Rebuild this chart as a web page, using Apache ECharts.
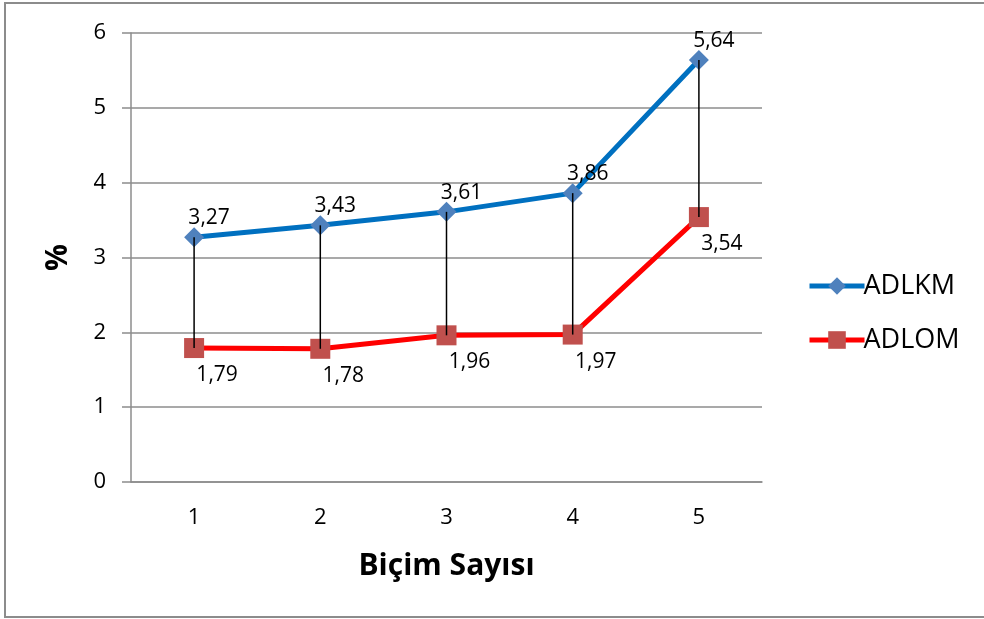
<!DOCTYPE html>
<html>
<head>
<meta charset="utf-8">
<script src="https://cdn.jsdelivr.net/npm/echarts@6/dist/echarts.min.js"></script>
<style>
html,body{margin:0;padding:0;background:#fff;}
#chart{width:984px;height:619px;}
</style>
</head>
<body>
<div id="chart"></div>
<script>
const categories = ['1', '2', '3', '4', '5'];
const adlkm = [3.27, 3.43, 3.61, 3.86, 5.64];
const adlom = [1.79, 1.78, 1.96, 1.97, 3.54];
const seriesNames = ['ADLKM', 'ADLOM'];
const yTicks = [0, 1, 2, 3, 4, 5, 6];

const FONT = 'Open Sans';
const fmt = p => String(p.value).replace('.', ',');

const chart = echarts.init(document.getElementById('chart'), null, {renderer: 'canvas'});
chart.setOption({
  animation: false,
  backgroundColor: '#fff',
  graphic: [{
    type: 'rect',
    shape: {x: 5, y: 3, width: 990, height: 614},
    style: {fill: 'none', stroke: '#8c8c8c', lineWidth: 2},
    z: -10
  }],
  grid: {left: 131, right: 222, top: 33, bottom: 137, containLabel: false},
  legend: {
    orient: 'vertical',
    left: 802,
    top: 265,
    data: seriesNames,
    itemWidth: 55,
    itemHeight: 22,
    itemGap: 22,
    lineStyle: {width: 5},
    textStyle: {fontFamily: FONT, fontSize: 27, color: '#000', lineHeight: 32, padding: [0, 0, 0, -6]}
  },
  xAxis: {
    type: 'category',
    data: categories,
    boundaryGap: true,
    name: 'Biçim Sayısı',
    nameLocation: 'middle',
    nameGap: 69,
    nameTextStyle: {fontFamily: FONT, fontSize: 30, fontWeight: 'bold', color: '#000'},
    axisLine: {lineStyle: {color: '#8c8c8c', width: 1.5}},
    axisTick: {show: false},
    axisLabel: {fontFamily: FONT, fontSize: 22, color: '#000', margin: 25}
  },
  yAxis: {
    type: 'value',
    min: yTicks[0],
    max: yTicks[yTicks.length - 1],
    interval: 1,
    name: '%',
    nameLocation: 'middle',
    nameGap: 58,
    nameRotate: 90,
    nameTextStyle: {fontFamily: FONT, fontSize: 30, fontWeight: 'bold', color: '#000'},
    axisLine: {show: true, lineStyle: {color: '#8c8c8c', width: 1.5}},
    axisTick: {show: true, length: 9, lineStyle: {color: '#8c8c8c', width: 1.5}},
    splitLine: {lineStyle: {color: '#8c8c8c', width: 1.5}},
    axisLabel: {fontFamily: FONT, fontSize: 22, color: '#000', margin: 25}
  },
  series: [
    {
      name: seriesNames[0],
      type: 'line',
      data: adlkm,
      symbol: 'diamond',
      symbolSize: 20,
      lineStyle: {color: '#0070C0', width: 5},
      itemStyle: {color: '#4F81BD'},
      z: 3,
      label: {
        show: true, position: 'inside', offset: [15, -19],
        formatter: fmt, fontFamily: FONT, fontSize: 21, color: '#000'
      }
    },
    {
      name: seriesNames[1],
      type: 'line',
      data: adlom,
      symbol: 'rect',
      symbolSize: 20,
      lineStyle: {color: '#FF0000', width: 5},
      itemStyle: {color: '#C0504D'},
      z: 3,
      label: {
        show: true, position: 'inside', offset: [23, 27],
        formatter: fmt, fontFamily: FONT, fontSize: 21, color: '#000'
      }
    },
    {
      name: 'drop',
      type: 'custom',
      z: 10,
      silent: true,
      data: categories.map((c, i) => [i, adlkm[i], adlom[i]]),
      renderItem: function (params, api) {
        const p1 = api.coord([api.value(0), api.value(1)]);
        const p2 = api.coord([api.value(0), api.value(2)]);
        return {
          type: 'line',
          shape: {x1: p1[0], y1: p1[1], x2: p2[0], y2: p2[1]},
          style: {stroke: '#000', lineWidth: 1.5}
        };
      }
    }
  ]
});
</script>
</body>
</html>
